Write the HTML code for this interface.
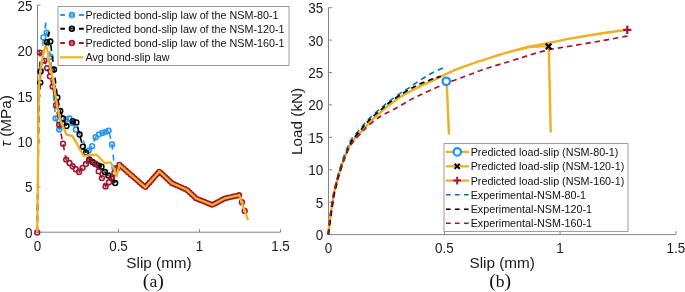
<!DOCTYPE html>
<html><head><meta charset="utf-8"><title>chart</title>
<style>html,body{margin:0;padding:0;background:#fff;}body{width:685px;height:292px;overflow:hidden;position:relative;font-family:"Liberation Sans",sans-serif;}</style>
</head><body>
<div style="position:absolute;left:0;top:0;width:685px;height:292px;will-change:transform">
<svg width="685" height="292" viewBox="0 0 685 292" style="position:absolute;left:0;top:0">
<rect width="685" height="292" fill="#fff"/>
<defs><filter id="g" x="0" y="0" width="100%" height="100%" filterUnits="userSpaceOnUse" color-interpolation-filters="sRGB"><feOffset dx="0" dy="0"/></filter></defs>
<g filter="url(#g)">
<g stroke="#858585" stroke-width="1" fill="none" shape-rendering="auto">
<path d="M37.5,5.1 V232.2 H280.5"/>
<path d="M37.5,232.2 h3"/>
<path d="M37.5,186.8 h3"/>
<path d="M37.5,141.4 h3"/>
<path d="M37.5,95.9 h3"/>
<path d="M37.5,50.5 h3"/>
<path d="M37.5,5.1 h3"/>
<path d="M37.5,232.2 v-3"/>
<path d="M118.5,232.2 v-3"/>
<path d="M199.5,232.2 v-3"/>
<path d="M280.5,232.2 v-3"/>
</g>
<g font-family="Liberation Sans, sans-serif" font-size="14.3" fill="#1a1a1a">
<text transform="translate(32.5,237.8) scale(0.94,1)" text-anchor="end">0</text>
<text transform="translate(32.5,192.4) scale(0.94,1)" text-anchor="end">5</text>
<text transform="translate(32.5,147.0) scale(0.94,1)" text-anchor="end">10</text>
<text transform="translate(32.5,101.5) scale(0.94,1)" text-anchor="end">15</text>
<text transform="translate(32.5,56.1) scale(0.94,1)" text-anchor="end">20</text>
<text transform="translate(32.5,10.7) scale(0.94,1)" text-anchor="end">25</text>
<text transform="translate(37.5,250.6) scale(0.94,1)" text-anchor="middle">0</text>
<text transform="translate(118.5,250.6) scale(0.94,1)" text-anchor="middle">0.5</text>
<text transform="translate(199.5,250.6) scale(0.94,1)" text-anchor="middle">1</text>
<text transform="translate(280.5,250.6) scale(0.94,1)" text-anchor="middle">1.5</text>
</g>
<g font-family="Liberation Sans, sans-serif" font-size="15.3" fill="#1a1a1a">
<text x="159" y="267.8" text-anchor="middle">Slip (mm)</text>
<text transform="translate(11.3,121) rotate(-90)" text-anchor="middle"><tspan font-style="italic">τ</tspan> (MPa)</text>
</g>
<text x="153.3" y="287.2" text-anchor="middle" font-family="Liberation Serif, serif" font-size="17.6" fill="#111"><tspan font-size="19.8">(</tspan>a<tspan font-size="19.8">)</tspan></text>
<polyline points="37.2,232.5 37.6,200.0 38.1,150.0 38.5,110.0 40.8,70.5 43.4,37.4 46.7,32.6 50.6,57.0 53.0,90.0 55.6,118.3 59.2,129.5 62.5,124.0 66.0,119.3 69.5,118.5 72.5,123.0 75.9,129.5 79.5,134.0 83.0,140.0 86.0,147.0 88.7,150.6 92.1,146.2 95.6,137.2 99.0,134.3 102.4,132.9 105.8,131.8 108.6,130.6 112.0,144.4 114.5,167.8" fill="none" stroke="#2196F3" stroke-width="1.6" stroke-dasharray="6 5"/>
<path d="M45.2,28.6 L45.8,22.6" stroke="#2196F3" stroke-width="1.9" fill="none"/>
<circle cx="40.8" cy="70.5" r="2.4" fill="none" stroke="#2196F3" stroke-width="1.55"/><circle cx="43.4" cy="37.4" r="2.4" fill="none" stroke="#2196F3" stroke-width="1.55"/><circle cx="46.7" cy="32.6" r="2.4" fill="none" stroke="#2196F3" stroke-width="1.55"/><circle cx="50.6" cy="57.0" r="2.4" fill="none" stroke="#2196F3" stroke-width="1.55"/><circle cx="55.6" cy="118.3" r="2.4" fill="none" stroke="#2196F3" stroke-width="1.55"/><circle cx="59.2" cy="129.5" r="2.4" fill="none" stroke="#2196F3" stroke-width="1.55"/><circle cx="62.5" cy="124.0" r="2.4" fill="none" stroke="#2196F3" stroke-width="1.55"/><circle cx="66.0" cy="119.3" r="2.4" fill="none" stroke="#2196F3" stroke-width="1.55"/><circle cx="69.5" cy="118.5" r="2.4" fill="none" stroke="#2196F3" stroke-width="1.55"/><circle cx="72.5" cy="123.0" r="2.4" fill="none" stroke="#2196F3" stroke-width="1.55"/><circle cx="75.9" cy="129.5" r="2.4" fill="none" stroke="#2196F3" stroke-width="1.55"/><circle cx="88.7" cy="150.6" r="2.4" fill="none" stroke="#2196F3" stroke-width="1.55"/><circle cx="92.1" cy="146.2" r="2.4" fill="none" stroke="#2196F3" stroke-width="1.55"/><circle cx="95.6" cy="137.2" r="2.4" fill="none" stroke="#2196F3" stroke-width="1.55"/><circle cx="99.0" cy="134.3" r="2.4" fill="none" stroke="#2196F3" stroke-width="1.55"/><circle cx="102.4" cy="132.9" r="2.4" fill="none" stroke="#2196F3" stroke-width="1.55"/><circle cx="105.8" cy="131.8" r="2.4" fill="none" stroke="#2196F3" stroke-width="1.55"/><circle cx="108.6" cy="130.6" r="2.4" fill="none" stroke="#2196F3" stroke-width="1.55"/><circle cx="112.0" cy="144.4" r="2.4" fill="none" stroke="#2196F3" stroke-width="1.55"/><circle cx="114.5" cy="167.8" r="2.4" fill="none" stroke="#2196F3" stroke-width="1.55"/>
<polyline points="37.2,232.5 37.6,200.0 38.1,150.0 38.5,110.0 40.3,82.6 40.5,71.6 44.0,50.0 47.1,42.2 50.3,41.5 54.0,69.5 57.4,97.4 60.3,111.0 63.0,118.5 66.5,126.0 69.5,123.0 72.8,121.2 76.4,122.4 79.6,134.5 82.8,146.7 86.0,152.6 89.4,159.5 92.5,162.0 95.5,164.0 98.5,165.5 101.5,166.7 104.9,172.0 108.3,175.4 111.7,178.1 115.2,183.0" fill="none" stroke="#000000" stroke-width="1.6" stroke-dasharray="6 5"/>
<path d="M48.0,36.8 L49.3,31.9" stroke="#000000" stroke-width="1.9" fill="none"/>
<circle cx="40.3" cy="82.6" r="2.4" fill="none" stroke="#000000" stroke-width="1.55"/><circle cx="40.5" cy="71.6" r="2.4" fill="none" stroke="#000000" stroke-width="1.55"/><circle cx="47.1" cy="42.2" r="2.4" fill="none" stroke="#000000" stroke-width="1.55"/><circle cx="50.3" cy="41.5" r="2.4" fill="none" stroke="#000000" stroke-width="1.55"/><circle cx="54.0" cy="69.5" r="2.4" fill="none" stroke="#000000" stroke-width="1.55"/><circle cx="57.4" cy="97.4" r="2.4" fill="none" stroke="#000000" stroke-width="1.55"/><circle cx="60.3" cy="111.0" r="2.4" fill="none" stroke="#000000" stroke-width="1.55"/><circle cx="63.0" cy="118.5" r="2.4" fill="none" stroke="#000000" stroke-width="1.55"/><circle cx="66.5" cy="126.0" r="2.4" fill="none" stroke="#000000" stroke-width="1.55"/><circle cx="72.8" cy="121.2" r="2.4" fill="none" stroke="#000000" stroke-width="1.55"/><circle cx="76.4" cy="122.4" r="2.4" fill="none" stroke="#000000" stroke-width="1.55"/><circle cx="79.6" cy="134.5" r="2.4" fill="none" stroke="#000000" stroke-width="1.55"/><circle cx="82.8" cy="146.7" r="2.4" fill="none" stroke="#000000" stroke-width="1.55"/><circle cx="86.0" cy="152.6" r="2.4" fill="none" stroke="#000000" stroke-width="1.55"/><circle cx="89.4" cy="159.5" r="2.4" fill="none" stroke="#000000" stroke-width="1.55"/><circle cx="92.5" cy="162.0" r="2.4" fill="none" stroke="#000000" stroke-width="1.55"/><circle cx="95.5" cy="164.0" r="2.4" fill="none" stroke="#000000" stroke-width="1.55"/><circle cx="98.5" cy="165.5" r="2.4" fill="none" stroke="#000000" stroke-width="1.55"/><circle cx="101.5" cy="166.7" r="2.4" fill="none" stroke="#000000" stroke-width="1.55"/><circle cx="104.9" cy="172.0" r="2.4" fill="none" stroke="#000000" stroke-width="1.55"/><circle cx="108.3" cy="175.4" r="2.4" fill="none" stroke="#000000" stroke-width="1.55"/><circle cx="111.7" cy="178.1" r="2.4" fill="none" stroke="#000000" stroke-width="1.55"/><circle cx="115.2" cy="183.0" r="2.4" fill="none" stroke="#000000" stroke-width="1.55"/>
<polyline points="37.2,232.5 39.9,52.6 44.4,60.6 47.1,68.1 49.9,76.3 52.6,86.5 56.0,105.2 59.2,124.7 63.0,143.7 66.2,159.6 69.5,163.0 72.6,166.2 75.8,169.2 79.1,172.0 82.6,167.8 85.9,164.0 89.5,160.3 95.3,163.7 98.7,171.3 101.9,178.1 105.6,186.4 109.0,182.2 111.7,177.4 114.3,173.0 116.8,169.0 119.5,164.8 145.3,187.4 159.4,171.4 171.7,183.0 186.8,189.8 196.0,198.3 212.4,205.0 224.9,198.3 239.2,195.2 241.9,202.2 244.7,210.9" fill="none" stroke="#A2142F" stroke-width="1.6" stroke-dasharray="6 5"/>
<circle cx="37.2" cy="232.5" r="2.4" fill="none" stroke="#A2142F" stroke-width="1.55"/><circle cx="39.9" cy="52.6" r="2.4" fill="none" stroke="#A2142F" stroke-width="1.55"/><circle cx="44.4" cy="60.6" r="2.4" fill="none" stroke="#A2142F" stroke-width="1.55"/><circle cx="47.1" cy="68.1" r="2.4" fill="none" stroke="#A2142F" stroke-width="1.55"/><circle cx="49.9" cy="76.3" r="2.4" fill="none" stroke="#A2142F" stroke-width="1.55"/><circle cx="52.6" cy="86.5" r="2.4" fill="none" stroke="#A2142F" stroke-width="1.55"/><circle cx="56.0" cy="105.2" r="2.4" fill="none" stroke="#A2142F" stroke-width="1.55"/><circle cx="59.2" cy="124.7" r="2.4" fill="none" stroke="#A2142F" stroke-width="1.55"/><circle cx="63.0" cy="143.7" r="2.4" fill="none" stroke="#A2142F" stroke-width="1.55"/><circle cx="66.2" cy="159.6" r="2.4" fill="none" stroke="#A2142F" stroke-width="1.55"/><circle cx="69.5" cy="163.0" r="2.4" fill="none" stroke="#A2142F" stroke-width="1.55"/><circle cx="72.6" cy="166.2" r="2.4" fill="none" stroke="#A2142F" stroke-width="1.55"/><circle cx="75.8" cy="169.2" r="2.4" fill="none" stroke="#A2142F" stroke-width="1.55"/><circle cx="79.1" cy="172.0" r="2.4" fill="none" stroke="#A2142F" stroke-width="1.55"/><circle cx="82.6" cy="167.8" r="2.4" fill="none" stroke="#A2142F" stroke-width="1.55"/><circle cx="85.9" cy="164.0" r="2.4" fill="none" stroke="#A2142F" stroke-width="1.55"/><circle cx="89.5" cy="160.3" r="2.4" fill="none" stroke="#A2142F" stroke-width="1.55"/><circle cx="95.3" cy="163.7" r="2.4" fill="none" stroke="#A2142F" stroke-width="1.55"/><circle cx="98.7" cy="171.3" r="2.4" fill="none" stroke="#A2142F" stroke-width="1.55"/><circle cx="101.9" cy="178.1" r="2.4" fill="none" stroke="#A2142F" stroke-width="1.55"/><circle cx="105.6" cy="186.4" r="2.4" fill="none" stroke="#A2142F" stroke-width="1.55"/><circle cx="109.0" cy="182.2" r="2.4" fill="none" stroke="#A2142F" stroke-width="1.55"/><circle cx="111.7" cy="177.4" r="2.4" fill="none" stroke="#A2142F" stroke-width="1.55"/><circle cx="114.3" cy="173.0" r="2.4" fill="none" stroke="#A2142F" stroke-width="1.55"/><circle cx="116.8" cy="169.0" r="2.4" fill="none" stroke="#A2142F" stroke-width="1.55"/><circle cx="119.5" cy="164.8" r="2.4" fill="none" stroke="#A2142F" stroke-width="1.55"/><circle cx="241.9" cy="202.2" r="2.4" fill="none" stroke="#A2142F" stroke-width="1.55"/><circle cx="244.7" cy="210.9" r="2.4" fill="none" stroke="#A2142F" stroke-width="1.55"/>
<circle cx="121.7" cy="166.7" r="2.1" fill="none" stroke="#A2142F" stroke-width="1.7"/><circle cx="123.9" cy="168.6" r="2.1" fill="none" stroke="#A2142F" stroke-width="1.7"/><circle cx="126.0" cy="170.5" r="2.1" fill="none" stroke="#A2142F" stroke-width="1.7"/><circle cx="128.2" cy="172.4" r="2.1" fill="none" stroke="#A2142F" stroke-width="1.7"/><circle cx="130.4" cy="174.4" r="2.1" fill="none" stroke="#A2142F" stroke-width="1.7"/><circle cx="132.6" cy="176.3" r="2.1" fill="none" stroke="#A2142F" stroke-width="1.7"/><circle cx="134.8" cy="178.2" r="2.1" fill="none" stroke="#A2142F" stroke-width="1.7"/><circle cx="137.0" cy="180.1" r="2.1" fill="none" stroke="#A2142F" stroke-width="1.7"/><circle cx="139.1" cy="182.0" r="2.1" fill="none" stroke="#A2142F" stroke-width="1.7"/><circle cx="141.3" cy="183.9" r="2.1" fill="none" stroke="#A2142F" stroke-width="1.7"/><circle cx="143.5" cy="185.8" r="2.1" fill="none" stroke="#A2142F" stroke-width="1.7"/><circle cx="145.6" cy="187.0" r="2.1" fill="none" stroke="#A2142F" stroke-width="1.7"/><circle cx="147.5" cy="184.8" r="2.1" fill="none" stroke="#A2142F" stroke-width="1.7"/><circle cx="149.5" cy="182.7" r="2.1" fill="none" stroke="#A2142F" stroke-width="1.7"/><circle cx="151.4" cy="180.5" r="2.1" fill="none" stroke="#A2142F" stroke-width="1.7"/><circle cx="153.3" cy="178.3" r="2.1" fill="none" stroke="#A2142F" stroke-width="1.7"/><circle cx="155.2" cy="176.1" r="2.1" fill="none" stroke="#A2142F" stroke-width="1.7"/><circle cx="157.1" cy="174.0" r="2.1" fill="none" stroke="#A2142F" stroke-width="1.7"/><circle cx="159.1" cy="171.8" r="2.1" fill="none" stroke="#A2142F" stroke-width="1.7"/><circle cx="161.1" cy="173.0" r="2.1" fill="none" stroke="#A2142F" stroke-width="1.7"/><circle cx="163.2" cy="175.0" r="2.1" fill="none" stroke="#A2142F" stroke-width="1.7"/><circle cx="165.3" cy="177.0" r="2.1" fill="none" stroke="#A2142F" stroke-width="1.7"/><circle cx="167.5" cy="179.0" r="2.1" fill="none" stroke="#A2142F" stroke-width="1.7"/><circle cx="169.6" cy="181.0" r="2.1" fill="none" stroke="#A2142F" stroke-width="1.7"/><circle cx="171.7" cy="183.0" r="2.1" fill="none" stroke="#A2142F" stroke-width="1.7"/><circle cx="174.3" cy="184.2" r="2.1" fill="none" stroke="#A2142F" stroke-width="1.7"/><circle cx="177.0" cy="185.4" r="2.1" fill="none" stroke="#A2142F" stroke-width="1.7"/><circle cx="179.6" cy="186.6" r="2.1" fill="none" stroke="#A2142F" stroke-width="1.7"/><circle cx="182.2" cy="187.7" r="2.1" fill="none" stroke="#A2142F" stroke-width="1.7"/><circle cx="184.9" cy="188.9" r="2.1" fill="none" stroke="#A2142F" stroke-width="1.7"/><circle cx="187.4" cy="190.3" r="2.1" fill="none" stroke="#A2142F" stroke-width="1.7"/><circle cx="189.5" cy="192.3" r="2.1" fill="none" stroke="#A2142F" stroke-width="1.7"/><circle cx="191.7" cy="194.3" r="2.1" fill="none" stroke="#A2142F" stroke-width="1.7"/><circle cx="193.8" cy="196.3" r="2.1" fill="none" stroke="#A2142F" stroke-width="1.7"/><circle cx="195.9" cy="198.2" r="2.1" fill="none" stroke="#A2142F" stroke-width="1.7"/><circle cx="198.6" cy="199.4" r="2.1" fill="none" stroke="#A2142F" stroke-width="1.7"/><circle cx="201.3" cy="200.4" r="2.1" fill="none" stroke="#A2142F" stroke-width="1.7"/><circle cx="203.9" cy="201.5" r="2.1" fill="none" stroke="#A2142F" stroke-width="1.7"/><circle cx="206.6" cy="202.6" r="2.1" fill="none" stroke="#A2142F" stroke-width="1.7"/><circle cx="209.3" cy="203.7" r="2.1" fill="none" stroke="#A2142F" stroke-width="1.7"/><circle cx="212.0" cy="204.8" r="2.1" fill="none" stroke="#A2142F" stroke-width="1.7"/><circle cx="214.6" cy="203.8" r="2.1" fill="none" stroke="#A2142F" stroke-width="1.7"/><circle cx="217.1" cy="202.5" r="2.1" fill="none" stroke="#A2142F" stroke-width="1.7"/><circle cx="219.7" cy="201.1" r="2.1" fill="none" stroke="#A2142F" stroke-width="1.7"/><circle cx="222.2" cy="199.7" r="2.1" fill="none" stroke="#A2142F" stroke-width="1.7"/><circle cx="224.8" cy="198.4" r="2.1" fill="none" stroke="#A2142F" stroke-width="1.7"/><circle cx="227.6" cy="197.7" r="2.1" fill="none" stroke="#A2142F" stroke-width="1.7"/><circle cx="230.5" cy="197.1" r="2.1" fill="none" stroke="#A2142F" stroke-width="1.7"/><circle cx="233.3" cy="196.5" r="2.1" fill="none" stroke="#A2142F" stroke-width="1.7"/><circle cx="236.1" cy="195.9" r="2.1" fill="none" stroke="#A2142F" stroke-width="1.7"/><circle cx="239.0" cy="195.3" r="2.1" fill="none" stroke="#A2142F" stroke-width="1.7"/><circle cx="239.2" cy="195.2" r="2.1" fill="none" stroke="#A2142F" stroke-width="1.7"/>
<polyline points="37.2,232.5 37.6,200.0 38.5,110.0 39.3,81.4 40.5,70.0 41.7,62.0 43.1,54.5 44.4,49.2 45.3,46.8 45.9,46.4 46.6,47.2 47.4,50.5 48.4,56.3 49.7,63.8 51.7,73.5 53.3,82.0 56.2,100.0 57.4,108.0 60.6,120.6 64.4,130.0 66.7,134.8 72.2,135.8 77.0,143.7 80.2,150.0 83.9,155.8 93.5,154.7 96.6,154.8 104.9,163.2 110.5,162.4 114.6,169.5 116.5,176.7 119.5,164.8 145.3,187.4 159.4,171.4 171.7,183.0 186.8,189.8 196.0,198.3 212.4,205.0 224.9,198.3 239.2,195.2 248.0,220.2" fill="none" stroke="#EDB120" stroke-width="2.3" stroke-linejoin="miter"/>
<rect x="58" y="6.5" width="231" height="59" fill="#fff" stroke="#909090" stroke-width="0.9"/>
<g font-family="Liberation Sans, sans-serif" font-size="10.75" fill="#111">
<path d="M60.3,15.0 h4.6 M79,15.0 h4.8" stroke="#2196F3" stroke-width="1.9"/>
<path d="M69.6,15.0 h4.6" stroke="#2196F3" stroke-width="1.3"/>
<circle cx="71.9" cy="15.0" r="2.35" fill="none" stroke="#2196F3" stroke-width="1.7"/>
<text x="85.5" y="19.0">Predicted bond-slip law of the NSM-80-1</text>
<path d="M60.3,28.8 h4.6 M79,28.8 h4.8" stroke="#000000" stroke-width="1.9"/>
<path d="M69.6,28.8 h4.6" stroke="#000000" stroke-width="1.3"/>
<circle cx="71.9" cy="28.8" r="2.35" fill="none" stroke="#000000" stroke-width="1.7"/>
<text x="85.5" y="32.8">Predicted bond-slip law of the NSM-120-1</text>
<path d="M60.3,43.0 h4.6 M79,43.0 h4.8" stroke="#A2142F" stroke-width="1.9"/>
<path d="M69.6,43.0 h4.6" stroke="#A2142F" stroke-width="1.3"/>
<circle cx="71.9" cy="43.0" r="2.35" fill="none" stroke="#A2142F" stroke-width="1.7"/>
<text x="85.5" y="47.0">Predicted bond-slip law of the NSM-160-1</text>
<path d="M60,57.3 H83" stroke="#EDB120" stroke-width="2.2"/>
<text x="85.5" y="61.3">Avg bond-slip law</text>
</g>
<g stroke="#858585" stroke-width="1" fill="none">
<path d="M328.5,7.7 V234.6 H675.9"/>
<path d="M328.5,234.6 h3.5"/>
<path d="M328.5,202.2 h3.5"/>
<path d="M328.5,169.8 h3.5"/>
<path d="M328.5,137.4 h3.5"/>
<path d="M328.5,104.9 h3.5"/>
<path d="M328.5,72.5 h3.5"/>
<path d="M328.5,40.1 h3.5"/>
<path d="M328.5,7.7 h3.5"/>
<path d="M328.5,234.6 v-3.5"/>
<path d="M444.3,234.6 v-3.5"/>
<path d="M560.1,234.6 v-3.5"/>
<path d="M675.9,234.6 v-3.5"/>
</g>
<g font-family="Liberation Sans, sans-serif" font-size="14.3" fill="#1a1a1a">
<text transform="translate(323.2,240.0) scale(0.94,1)" text-anchor="end">0</text>
<text transform="translate(323.2,207.6) scale(0.94,1)" text-anchor="end">5</text>
<text transform="translate(323.2,175.2) scale(0.94,1)" text-anchor="end">10</text>
<text transform="translate(323.2,142.8) scale(0.94,1)" text-anchor="end">15</text>
<text transform="translate(323.2,110.3) scale(0.94,1)" text-anchor="end">20</text>
<text transform="translate(323.2,77.9) scale(0.94,1)" text-anchor="end">25</text>
<text transform="translate(323.2,45.5) scale(0.94,1)" text-anchor="end">30</text>
<text transform="translate(323.2,13.1) scale(0.94,1)" text-anchor="end">35</text>
<text transform="translate(328.5,253) scale(0.94,1)" text-anchor="middle">0</text>
<text transform="translate(444.3,253) scale(0.94,1)" text-anchor="middle">0.5</text>
<text transform="translate(560.1,253) scale(0.94,1)" text-anchor="middle">1</text>
<text transform="translate(675.9,253) scale(0.94,1)" text-anchor="middle">1.5</text>
</g>
<g font-family="Liberation Sans, sans-serif" font-size="15.3" fill="#1a1a1a">
<text x="502.2" y="267.9" text-anchor="middle">Slip (mm)</text>
<text transform="translate(301.5,121.4) rotate(-90)" text-anchor="middle">Load (kN)</text>
</g>
<text x="500.2" y="287.2" text-anchor="middle" font-family="Liberation Serif, serif" font-size="17.6" fill="#111"><tspan font-size="19.8">(</tspan>b<tspan font-size="19.8">)</tspan></text>
<path d="M328.2,234.6 C328.6,231.2 329.9,220.6 330.8,214.0 C331.7,207.4 332.8,199.8 333.7,195.0 C334.6,190.2 335.2,188.2 336.0,185.0 C336.8,181.8 337.2,179.8 338.5,175.6 C339.8,171.4 341.9,164.8 343.7,160.0 C345.5,155.2 347.5,150.3 349.1,147.0 C350.7,143.7 351.1,143.1 353.3,140.3 C355.6,137.5 359.5,133.4 362.6,130.0 C365.7,126.6 368.6,123.1 372.0,119.8 C375.4,116.5 379.7,113.0 383.0,110.2 C386.3,107.4 388.3,105.7 391.6,103.2 C394.9,100.7 398.7,97.9 403.0,95.3 C407.3,92.7 412.9,89.8 417.4,87.6 C421.9,85.3 425.8,83.7 429.8,81.8 C433.8,79.9 437.4,78.2 441.4,76.3 C445.4,74.4 449.4,72.4 453.7,70.6 C458.0,68.8 462.8,67.1 467.4,65.4 C472.0,63.8 476.6,62.2 481.2,60.7 C485.8,59.2 490.3,57.6 494.9,56.2 C499.5,54.8 504.0,53.4 508.6,52.1 C513.2,50.8 518.7,49.4 522.3,48.5 C525.9,47.6 525.6,47.4 530.0,46.5 C534.4,45.6 541.6,44.4 548.5,43.0 C555.4,41.6 562.9,39.9 571.2,38.4 C579.6,36.9 589.2,35.2 598.6,33.7 C608.0,32.2 622.5,30.4 627.3,29.7" fill="none" stroke="#EDB120" stroke-width="2.4"/>
<path d="M515.0,50.4 C517.5,49.9 525.8,47.9 530.0,47.2 C534.2,46.6 536.9,46.6 540.0,46.5 C543.1,46.4 547.2,46.3 548.6,46.3" fill="none" stroke="#EDB120" stroke-width="2.2"/>
<path d="M446.6,81.3 L449,134.6" stroke="#EDB120" stroke-width="2.4" fill="none"/>
<path d="M548.8,46.5 L550.7,132.6" stroke="#EDB120" stroke-width="2.4" fill="none"/>
<path d="M328.2,234.6 C328.6,231.2 329.9,220.6 330.8,214.0 C331.7,207.4 332.8,199.8 333.6,195.0 C334.4,190.2 335.0,188.2 335.7,185.0 C336.4,181.8 336.8,179.8 337.9,175.6 C339.0,171.4 341.0,164.8 342.6,160.0 C344.2,155.2 346.2,150.5 347.7,147.0 C349.2,143.5 349.6,142.1 351.6,139.1 C353.7,136.1 357.5,132.0 360.0,129.0 C362.5,126.0 364.3,123.5 366.7,121.0 C369.1,118.5 371.8,116.0 374.3,113.8 C376.8,111.5 379.4,109.5 381.8,107.5 C384.2,105.5 386.0,103.8 388.7,101.7 C391.4,99.6 394.8,97.0 398.0,94.8 C401.2,92.6 404.3,90.9 407.8,88.6 C411.3,86.3 414.9,83.6 418.8,81.1 C422.7,78.6 427.0,75.8 431.2,73.5 C435.4,71.2 441.7,68.6 443.8,67.6" fill="none" stroke="#0072BD" stroke-width="1.6" stroke-dasharray="5.5 4.05"/>
<path d="M328.4,234.6 C328.9,231.2 330.2,220.6 331.2,214.0 C332.1,207.4 333.2,199.8 334.1,195.0 C335.0,190.2 335.6,188.2 336.4,185.0 C337.2,181.8 337.6,179.8 338.9,175.6 C340.1,171.4 342.2,164.8 343.9,160.0 C345.6,155.2 347.4,150.4 348.9,147.0 C350.3,143.6 350.6,142.7 352.6,139.8 C354.6,137.0 358.4,132.9 360.9,129.9 C363.4,126.9 365.1,124.3 367.5,121.8 C369.9,119.2 372.6,116.8 375.1,114.6 C377.6,112.3 380.2,110.3 382.6,108.3 C385.0,106.3 385.9,105.1 389.5,102.5 C393.1,99.9 399.2,95.5 403.9,92.6 C408.6,89.7 413.2,87.2 417.5,85.1 C421.8,83.0 426.0,81.5 429.9,80.0 C433.8,78.5 439.0,76.9 440.8,76.3" fill="none" stroke="#000000" stroke-width="1.7" stroke-dasharray="5.4 3.9"/>
<path d="M328.0,234.6 C328.4,231.2 329.5,220.6 330.4,214.0 C331.3,207.4 332.4,199.8 333.3,195.0 C334.2,190.2 334.8,188.2 335.6,185.0 C336.4,181.8 336.9,179.8 338.2,175.6 C339.5,171.4 341.7,164.7 343.6,160.0 C345.5,155.3 347.7,150.6 349.5,147.3 C351.3,144.1 352.2,142.9 354.2,140.5 C356.1,138.1 358.9,135.4 361.2,133.0 C363.5,130.6 364.8,128.6 368.0,125.8 C371.2,123.0 376.0,119.2 380.3,116.5 C384.6,113.8 389.1,112.0 394.0,109.3 C398.9,106.6 405.9,102.5 409.8,100.3 C413.7,98.1 412.4,98.7 417.4,96.3 C422.4,93.9 433.9,88.5 440.0,85.9 C446.1,83.3 449.1,82.2 453.7,80.5 C458.3,78.8 462.8,77.1 467.4,75.4 C472.0,73.7 476.6,71.9 481.2,70.3 C485.8,68.7 490.3,67.2 494.9,65.8 C499.5,64.4 504.0,63.1 508.6,61.7 C513.2,60.3 518.7,58.6 522.3,57.5 C525.9,56.4 525.6,56.3 530.0,55.0 C534.4,53.7 541.6,51.3 548.5,49.8 C555.4,48.3 562.9,47.4 571.2,46.0 C579.6,44.6 589.8,42.8 598.6,41.3 C607.4,39.8 618.9,37.6 624.0,36.7 C629.1,35.8 628.2,35.9 629.0,35.7" fill="none" stroke="#A2142F" stroke-width="1.7" stroke-dasharray="5.4 3.9"/>
<circle cx="446.3" cy="81.3" r="3.7" fill="#fff" stroke="#1E90FF" stroke-width="2.3"/>
<path d="M545.8,43.6 l5.6,5.6 M551.4,43.6 l-5.6,5.6" stroke="#000" stroke-width="2.2"/>
<path d="M623.2,29.8 h8.2 M627.3,25.7 v8.2" stroke="#A2142F" stroke-width="2.2"/>
<rect x="444" y="143.6" width="184" height="87.8" fill="#fff" stroke="#909090" stroke-width="0.9"/>
<g font-family="Liberation Sans, sans-serif" font-size="10.75" fill="#111">
<path d="M445.8,151.9 H469" stroke="#EDB120" stroke-width="2.3"/>
<circle cx="457.3" cy="151.9" r="3.7" fill="#fff" stroke="#1E90FF" stroke-width="2.3"/>
<text x="470.7" y="155.9">Predicted load-slip (NSM-80-1)</text>
<path d="M445.8,166.3 H469" stroke="#EDB120" stroke-width="2.3"/>
<path d="M454.6,163.70000000000002 l5.2,5.2 M459.8,163.70000000000002 l-5.2,5.2" stroke="#000" stroke-width="2"/>
<text x="470.7" y="170.3">Predicted load-slip (NSM-120-1)</text>
<path d="M445.8,180.6 H469" stroke="#EDB120" stroke-width="2.3"/>
<path d="M453.4,180.6 h7.6 M457.2,176.79999999999998 v7.6" stroke="#A2142F" stroke-width="2"/>
<text x="470.7" y="184.6">Predicted load-slip (NSM-160-1)</text>
<path d="M446,194.8 H469" stroke="#0072BD" stroke-width="1.5" stroke-dasharray="4.6 4.4"/>
<text x="470.7" y="198.8">Experimental-NSM-80-1</text>
<path d="M446,209.2 H469" stroke="#000000" stroke-width="1.5" stroke-dasharray="4.6 4.4"/>
<text x="470.7" y="213.2">Experimental-NSM-120-1</text>
<path d="M446,223.3 H469" stroke="#A2142F" stroke-width="1.5" stroke-dasharray="4.6 4.4"/>
<text x="470.7" y="227.3">Experimental-NSM-160-1</text>
</g>
</g>
</svg>
</div>
</body></html>
